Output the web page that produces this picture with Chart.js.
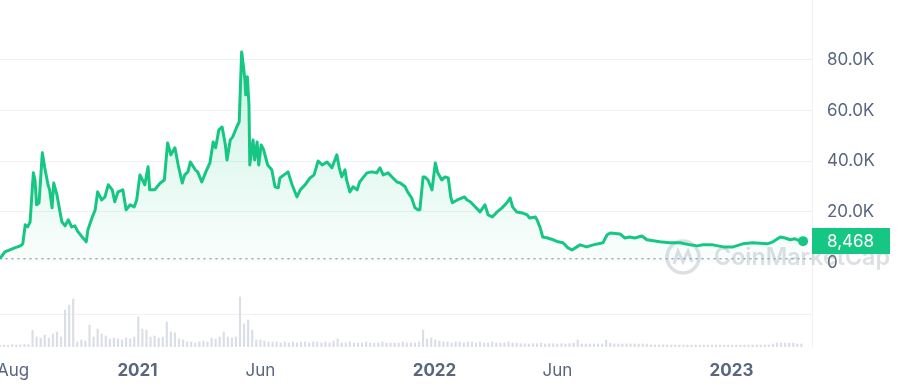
<!DOCTYPE html>
<html><head><meta charset="utf-8">
<script src="https://cdn.jsdelivr.net/npm/chart.js@4.4.1/dist/chart.umd.min.js"></script>
<style>html,body{margin:0;padding:0;background:#fff}#wrap{width:900px;height:391px;position:relative}</style>
</head><body><div id="wrap"><canvas id="c"></canvas></div>
<script>
// days since 2020-07-16
const days = [
  0,6,12,18,25,28,31,34,37,41,
  43,45,48,52,55,59,61,64,66,70,
  74,76,80,84,88,92,96,101,106,108,
  113,117,120,125,129,133,138,141,145,151,
  155,160,165,168,172,178,182,184,190,197,
  202,206,210,215,219,224,227,231,234,240,
  243,248,253,258,262,265,269,273,277,279,
  283,286,291,294,297,299,301,302,304,306,
  307,311,313,316,318,321,324,329,334,338,
  342,344,349,354,359,365,369,375,381,386,
  391,396,402,408,414,417,420,424,426,430,
  434,439,442,446,451,457,463,467,471,477,
  483,488,492,498,501,506,510,514,516,520,
  522,526,531,535,538,543,547,551,554,556,
  562,568,571,574,578,584,590,596,600,605,
  611,617,623,627,630,635,642,648,651,658,
  660,664,667,673,680,686,692,698,703,709,
  713,721,729,741,746,750,762,768,774,780,
  789,795,811,823,836,848,857,864,876,889,
  901,913,925,943,950,959,965,971,977,983,
  987
];
// price in thousands USD
const prices = [
  1.6,4.2,5.0,5.8,6.6,7.4,14.9,14.1,16.1,35.4,
  32.6,22.8,23.6,43.3,37.4,30.7,28.7,21.6,31.4,26.7,
  19.6,16.1,14.5,16.9,14.1,14.5,12.1,10.1,8.2,12.9,
  17.6,20.8,27.9,24.7,25.9,30.7,28.7,24.0,27.9,28.7,
  20.8,22.8,22.0,24.7,34.6,30.7,37.8,28.7,28.7,31.4,
  32.6,47.2,42.5,45.3,38.5,31.4,34.6,35.8,39.7,36.6,
  35.8,31.8,35.8,39.3,47.6,45.3,52.4,53.5,46.4,40.5,
  48.4,49.6,53.5,55.5,83.1,78.0,72.1,66.2,73.3,62.2,
  38.5,48.4,40.5,47.6,38.5,46.4,44.5,38.5,36.6,29.9,
  29.5,33.4,34.6,35.8,30.7,25.9,28.7,30.7,33.4,34.6,
  40.1,38.5,39.7,37.4,42.5,37.4,33.8,36.6,32.6,27.9,
  29.9,28.7,31.8,33.4,35.4,35.8,35.4,37.4,34.6,35.4,
  33.4,31.8,31.4,29.9,27.9,25.5,21.6,20.8,20.8,33.8,
  33.8,32.6,28.7,39.3,35.4,32.6,33.8,33.4,25.9,23.6,
  24.7,25.5,25.9,24.7,24.0,22.0,20.0,22.8,18.8,18.0,
  20.0,21.6,23.6,25.5,22.0,20.0,19.6,18.8,17.6,18.0,
  16.9,13.7,10.1,9.7,9.0,8.2,7.8,5.8,5.0,6.2,
  7.0,6.2,7.0,7.8,10.9,11.7,11.3,9.7,10.1,9.7,
  10.5,9.0,8.2,7.8,7.8,7.0,6.6,7.0,7.0,6.2,
  6.2,7.4,7.8,7.4,8.2,10.1,9.7,9.0,9.4,8.6,
  8.468
];
// 5-day volume samples (millions USD), starting day 0
const volumes = [
  10,12,10,14,12,12,15,14,100,60,
  54,72,54,78,90,60,222,252,288,30,
  42,36,132,60,108,78,66,48,54,48,
  42,54,48,60,180,108,102,60,66,54,
  60,150,90,84,48,42,30,30,24,30,
  36,30,54,48,60,90,60,54,60,300,
  138,162,102,42,42,36,30,30,30,24,
  30,24,30,24,30,30,24,30,30,24,
  30,24,36,48,24,24,30,24,24,24,
  30,24,24,24,30,24,24,24,24,30,
  24,24,24,30,102,48,54,42,36,30,
  30,24,30,30,24,30,30,24,30,24,
  24,30,24,24,24,30,24,24,20,20,
  18,20,20,24,18,20,20,18,20,18,
  20,24,42,18,18,18,18,18,18,42,
  24,18,18,18,18,18,18,18,18,18,
  12,12,12,12,12,12,12,12,12,12,
  12,12,12,12,12,12,12,12,12,12,
  12,12,12,12,12,12,12,12,12,12,
  18,24,24,24,24,24,18,18
];
const volumeStepDays = 5;
const tickDays = [16, 169, 320, 534, 685, 899];
const tickLabels = ['Aug', '2021', 'Jun', '2022', 'Jun', '2023'];
const priceTicks = [0, 20, 40, 60, 80];
const openPrice = 1.5;
const volumeGridValue = 200;

const GREEN = '#16c784';
const LABEL = '#58667e';
const GRID = '#eff2f5';

const pricePoints = days.map((d, i) => ({ x: d, y: prices[i] }));
const volPoints = volumes.map((v, i) => ({ x: i * volumeStepDays, y: v }));
const X_MAX = 998;

function noPad(s) { s.paddingTop = 0; s.paddingBottom = 0; s.paddingLeft = 0; s.paddingRight = 0; }

const decorations = {
  id: 'decorations',
  beforeDatasetsDraw(chart) {
    const c = chart.ctx;
    const yv = chart.scales.yv, area = chart.chartArea;
    const gy = Math.round(yv.getPixelForValue(volumeGridValue)) + 0.5;
    c.save();
    c.strokeStyle = GRID; c.lineWidth = 1;
    c.beginPath(); c.moveTo(area.left, gy); c.lineTo(area.right, gy); c.stroke();
    // watermark
    c.globalAlpha = 0.3;
    c.strokeStyle = '#8a94a6'; c.fillStyle = '#8a94a6';
    c.lineWidth = 3.5;
    c.beginPath(); c.arc(683, 257, 16, 0, Math.PI * 2); c.stroke();
    c.lineWidth = 3;
    c.beginPath();
    c.moveTo(674, 264); c.lineTo(678, 251); c.lineTo(683, 262); c.lineTo(688, 251); c.lineTo(692, 262);
    c.stroke();
    c.font = '600 24px Inter';
    c.textBaseline = 'middle';
    c.textAlign = 'left';
    c.fillText('CoinMarketCap', 714, 258, 176);
    c.restore();
  },
  afterDraw(chart) {
    const c = chart.ctx, y = chart.scales.y, area = chart.chartArea;
    const last = prices[prices.length - 1];
    const py = y.getPixelForValue(last);
    c.save();
    c.fillStyle = GREEN;
    c.fillRect(area.right, Math.round(py - 13), 78, 26);
    c.fillStyle = '#ffffff';
    c.font = '17px Inter';
    c.textBaseline = 'middle';
    c.textAlign = 'left';
    c.fillText(Math.round(last * 1000).toLocaleString('en-US'), area.right + 15, py + 1);
    c.restore();
  }
};

new Chart(document.getElementById('c'), {
  type: 'line',
  data: {
    datasets: [
      {
        type: 'line', label: 'Price', data: pricePoints, order: 0,
        borderColor: GREEN, borderWidth: 3, tension: 0, fill: 'origin',
        borderJoinStyle: 'round',
        backgroundColor: (ctx) => {
          const ch = ctx.chart, a = ch.chartArea;
          if (!a) return 'rgba(22,199,132,0.1)';
          const g = ch.ctx.createLinearGradient(0, a.top, 0, ch.scales.y.getPixelForValue(0));
          g.addColorStop(0, 'rgba(22,199,132,0.28)');
          g.addColorStop(1, 'rgba(22,199,132,0.02)');
          return g;
        },
        pointRadius: (ctx) => ctx.dataIndex === prices.length - 1 ? 5 : 0,
        pointBackgroundColor: GREEN, pointBorderWidth: 0, pointHoverRadius: 0,
        yAxisID: 'y'
      },
      {
        type: 'line', label: 'Open', data: [{ x: 0, y: openPrice }, { x: X_MAX, y: openPrice }], order: 1,
        borderColor: '#a1a7bb', borderWidth: 1.6, borderDash: [1, 5], borderCapStyle: 'round',
        pointRadius: 0, fill: false, yAxisID: 'y'
      },
      {
        type: 'bar', label: 'Volume', data: volPoints, order: 2,
        backgroundColor: '#dadee6', barThickness: 1.5, yAxisID: 'yv'
      }
    ]
  },
  options: {
    responsive: true, maintainAspectRatio: false, animation: false,
    layout: { padding: 0, autoPadding: false },
    plugins: { legend: { display: false }, tooltip: { enabled: false } },
    scales: {
      x: {
        type: 'linear', min: 0, max: X_MAX, offset: false,
        grid: { display: false, drawTicks: false }, border: { display: false },
        afterBuildTicks: (s) => { s.ticks = tickDays.map(v => ({ value: v })); },
        afterFit: (s) => { s.height = 44; noPad(s); },
        ticks: {
          autoSkip: false, maxRotation: 0, padding: 14, color: LABEL,
          callback: (v, i) => tickLabels[i],
          font: (ctx) => ({ family: 'Inter', size: 17, weight: /^\d{4}$/.test(tickLabels[ctx.index] || '') ? '700' : '400' })
        }
      },
      y: {
        position: 'right', min: -33.3, max: 103.6,
        afterBuildTicks: (s) => { s.ticks = priceTicks.map(v => ({ value: v })); },
        afterFit: (s) => { s.width = 88; noPad(s); },
        grid: { color: (ctx) => ctx.tick && ctx.tick.value === 0 ? 'rgba(0,0,0,0)' : GRID, drawTicks: false },
        border: { display: true, color: GRID },
        ticks: {
          padding: 15, color: LABEL, font: { family: 'Inter', size: 17 },
          callback: (v) => v === 0 ? '0' : v.toFixed(1) + 'K'
        }
      },
      yv: {
        position: 'right', min: 0, max: 2080, display: false,
        grid: { display: false }
      }
    }
  },
  plugins: [decorations]
});
</script>
</body></html>
